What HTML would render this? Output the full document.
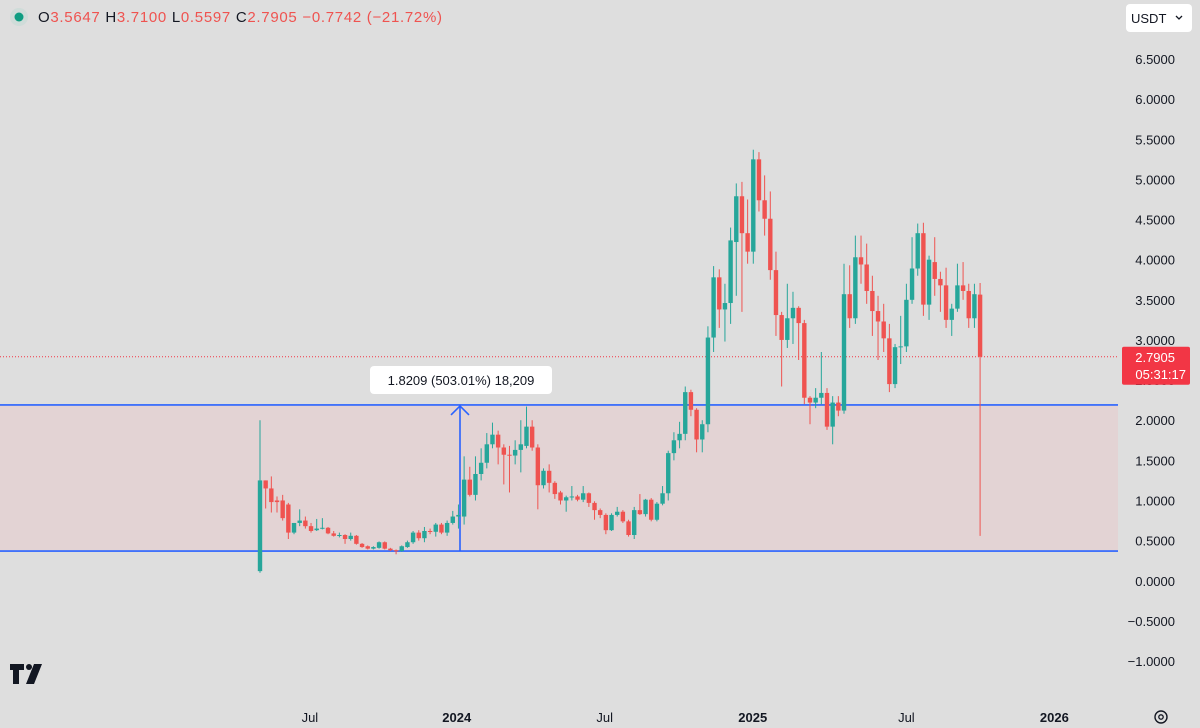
<!DOCTYPE html>
<html><head><meta charset="utf-8"><style>
html,body{margin:0;padding:0;background:#dedede;width:1200px;height:728px;overflow:hidden;font-family:"Liberation Sans",sans-serif;}
svg{position:absolute;left:0;top:0}
</style></head><body>
<svg id="chart" width="1200" height="728">
<rect x="0" y="0" width="1200" height="728" fill="#dedede"/>
<g id="zone"></g>
<g id="grid"></g>
<g id="candles"></g>
<g id="yaxis"></g>
<g id="xaxis"></g>
<g>
<circle cx="19" cy="17" r="9" fill="#cfdcd9"/>
<circle cx="19" cy="17" r="4.5" fill="#0f9d82"/>
<text x="38" y="22" font-size="15" letter-spacing="0.7" fill="#131722">O<tspan fill="#ef5350">3.5647</tspan>  H<tspan fill="#ef5350">3.7100</tspan>  L<tspan fill="#ef5350">0.5597</tspan>  C<tspan fill="#ef5350">2.7905</tspan>  <tspan fill="#ef5350">−0.7742 (−21.72%)</tspan></text>
</g>
<g>
<rect x="1126" y="4" width="66" height="28" rx="4" fill="#fff"/>
<text x="1131" y="23" font-size="13" fill="#131722">USDT</text>
<path d="M1176 16 l3 3 l3 -3" stroke="#131722" stroke-width="1.3" fill="none"/>
</g>
<g>
<path d="M10 664 h14 v6 h-5 v14 h-6 v-14 h-3z" fill="#131722"/>
<circle cx="29" cy="667" r="3" fill="#131722"/>
<path d="M34 664 h8 l-8 20 h-8z" fill="#131722"/>
</g>
<g>
<circle cx="1161" cy="717" r="6" fill="none" stroke="#131722" stroke-width="1.4"/>
<circle cx="1161" cy="717" r="2.2" fill="none" stroke="#131722" stroke-width="1.3"/>
</g>
</svg>
<script>
const opens=[0.12,1.25,1.15,1.0,1.0,0.95,0.60,0.72,0.75,0.68,0.63,0.65,0.66,0.59,0.56,0.57,0.52,0.56,0.46,0.43,0.40,0.41,0.48,0.40,0.38,0.37,0.42,0.48,0.60,0.53,0.62,0.61,0.70,0.60,0.72,0.80,0.80,1.26,1.07,1.33,1.47,1.70,1.82,1.66,1.57,1.56,1.63,1.68,1.92,1.66,1.19,1.37,1.22,1.10,1.00,1.04,1.05,1.01,1.09,0.97,0.88,0.82,0.63,0.82,0.86,0.74,0.57,0.88,0.83,1.01,0.76,0.96,1.09,1.59,1.75,1.83,2.35,2.13,1.76,1.95,3.03,3.78,3.38,3.46,4.22,4.79,4.33,4.10,5.25,4.74,4.51,3.87,3.31,3.0,3.27,3.40,3.21,2.28,2.22,2.28,2.34,1.92,2.22,2.12,3.57,3.27,4.03,3.94,3.61,3.36,3.23,3.02,2.45,2.91,2.92,3.50,3.89,4.33,3.44,3.97,3.76,3.68,3.25,3.39,3.68,3.61,3.27,3.5647];
const highs=[2.0,1.25,1.3,1.05,1.07,0.97,0.72,0.89,0.80,0.72,0.77,0.78,0.67,0.62,0.60,0.58,0.60,0.57,0.47,0.44,0.43,0.49,0.49,0.41,0.39,0.44,0.50,0.62,0.63,0.67,0.65,0.72,0.72,0.75,0.87,0.95,1.55,1.42,1.55,1.65,1.84,1.97,1.87,1.70,1.68,1.75,2.0,2.17,2.0,1.70,1.40,1.45,1.24,1.12,1.06,1.18,1.07,1.18,1.10,0.99,0.90,0.84,0.84,0.92,0.88,0.76,0.92,1.08,1.02,1.03,0.98,1.18,1.62,1.85,1.98,2.42,2.38,2.15,2.0,3.17,3.92,3.88,3.70,4.40,4.95,4.97,4.75,5.37,5.34,5.05,4.85,4.10,3.35,3.7,3.60,3.42,3.25,2.30,2.40,2.85,2.40,2.30,2.30,3.95,3.93,4.30,4.30,4.20,3.80,3.55,3.45,3.20,2.95,3.30,3.70,4.28,4.45,4.46,4.05,4.28,3.85,3.90,3.45,3.95,3.97,3.70,3.70,3.71];
const lows=[0.1,0.9,0.85,0.85,0.75,0.52,0.58,0.68,0.65,0.60,0.62,0.64,0.58,0.55,0.54,0.46,0.50,0.45,0.41,0.39,0.39,0.40,0.39,0.37,0.33,0.36,0.41,0.46,0.50,0.48,0.58,0.55,0.58,0.56,0.70,0.65,0.70,1.05,1.0,1.25,1.40,1.65,1.45,1.20,1.10,1.45,1.35,1.65,1.62,0.89,1.15,1.10,1.02,0.95,0.86,1.0,0.99,0.98,0.92,0.76,0.78,0.58,0.62,0.80,0.72,0.55,0.52,0.82,0.80,0.74,0.74,0.94,1.0,1.50,1.65,1.75,2.05,1.6,1.6,1.85,2.85,3.15,2.98,3.20,3.55,3.35,3.95,3.95,4.60,4.3,3.75,3.05,2.42,2.9,2.95,2.75,2.20,1.95,2.15,2.20,1.88,1.70,2.05,2.08,3.15,3.20,3.70,3.45,3.05,2.75,2.85,2.35,2.40,2.70,2.85,3.45,3.80,3.30,3.25,3.55,3.35,3.15,3.05,3.35,3.50,3.15,3.15,0.5597];
const closes=[1.25,1.15,0.98,0.98,0.78,0.60,0.72,0.75,0.68,0.62,0.65,0.66,0.59,0.56,0.57,0.52,0.56,0.46,0.42,0.40,0.42,0.48,0.40,0.38,0.37,0.43,0.48,0.60,0.53,0.62,0.61,0.70,0.60,0.72,0.80,0.82,1.26,1.07,1.33,1.47,1.70,1.82,1.66,1.57,1.56,1.63,1.70,1.92,1.66,1.19,1.37,1.22,1.08,1.00,1.04,1.05,1.01,1.09,0.97,0.88,0.82,0.63,0.82,0.86,0.74,0.57,0.88,0.83,1.01,0.76,0.96,1.09,1.59,1.75,1.83,2.35,2.13,1.76,1.95,3.03,3.78,3.38,3.46,4.24,4.79,4.33,4.10,5.25,4.74,4.51,3.87,3.31,3.0,3.27,3.40,3.21,2.28,2.22,2.28,2.34,1.92,2.22,2.12,3.57,3.27,4.03,3.94,3.61,3.36,3.23,3.02,2.45,2.91,2.92,3.50,3.89,4.33,3.44,4.00,3.76,3.68,3.25,3.39,3.68,3.61,3.27,3.57,2.7905];
const yTicks=[6.5,6.0,5.5,5.0,4.5,4.0,3.5,3.0,2.5,2.0,1.5,1.0,0.5,0.0,-0.5,-1.0];
const xLabels=["Jul","2024","Jul","2025","Jul","2026"];
const xLabelWeeks=[8.8,34.7,60.8,86.9,114.0,140.1];
const zoneTop=2.19, zoneBottom=0.37, lastPrice=2.7905;

const NS="http://www.w3.org/2000/svg";
const yScale=v=>59+(6.5-v)*80.27;
const xScale=i=>260+i*5.67;
function mk(tag,attrs,parent){const e=document.createElementNS(NS,tag);for(const k in attrs)e.setAttribute(k,attrs[k]);parent.appendChild(e);return e;}

const zone=document.getElementById('zone');
const zr=mk('rect',{x:0,y:yScale(zoneTop),width:1118,height:yScale(zoneBottom)-yScale(zoneTop),fill:'#e3d3d4'},zone);


const l1=mk('line',{x1:0,x2:1118,y1:yScale(zoneTop),y2:yScale(zoneTop),stroke:'#2962ff','stroke-width':1.6},zone);


const l2=mk('line',{x1:0,x2:1118,y1:yScale(zoneBottom),y2:yScale(zoneBottom),stroke:'#2962ff','stroke-width':1.6},zone);


const ax=460;
const ar=mk('path',{d:`M${ax} ${yScale(zoneBottom)} V${yScale(zoneTop)} M${ax-9} ${yScale(zoneTop)+10} L${ax} ${yScale(zoneTop)+1} L${ax+9} ${yScale(zoneTop)+10}`,stroke:'#2962ff','stroke-width':1.6,fill:'none'},zone);


const lb=mk('rect',{x:370,y:366,width:182,height:28,rx:4,fill:'#fff'},zone);


const lt=mk('text',{x:461,y:385,'font-size':13,fill:'#131722','text-anchor':'middle'},zone);
lt.textContent='1.8209 (503.01%) 18,209';



const grid=document.getElementById('grid');
const dl=mk('line',{x1:0,x2:1118,y1:yScale(lastPrice),y2:yScale(lastPrice),stroke:'#f23645','stroke-width':1,'stroke-dasharray':'1 2'},grid);



const cg=document.getElementById('candles');
for(let i=0;i<opens.length;i++){
  const up=closes[i]>=opens[i];
  const col=up?'#26a69a':'#ef5350';
  const x=xScale(i);
  const g=mk('g',{},cg);
  
  
  mk('line',{x1:x,x2:x,y1:yScale(highs[i]),y2:yScale(lows[i]),stroke:col,'stroke-width':1},g);
  const t=yScale(Math.max(opens[i],closes[i])),b=yScale(Math.min(opens[i],closes[i]));
  mk('rect',{x:x-2.2,y:t,width:4.4,height:Math.max(1,b-t),fill:col},g);
}

const yg=document.getElementById('yaxis');
yTicks.forEach(v=>{
  const t=mk('text',{x:1175,y:yScale(v)+5,'font-size':13,fill:'#131722','text-anchor':'end'},yg);
  t.textContent=(v<0?'−':'')+Math.abs(v).toFixed(4);
  
  
});
const pb=mk('rect',{x:1122,y:yScale(lastPrice)-10,width:68,height:38,rx:2,fill:'#f23645'},yg);


const p1=mk('text',{x:1175,y:yScale(lastPrice)+5,'font-size':13,fill:'#fff','text-anchor':'end'},yg);
p1.textContent=lastPrice.toFixed(4);


const p2=mk('text',{x:1186,y:yScale(lastPrice)+22,'font-size':13,fill:'#fff','text-anchor':'end'},yg);
p2.textContent='05:31:17';



const xg=document.getElementById('xaxis');
xLabels.forEach((s,k)=>{
  const t=mk('text',{x:xScale(xLabelWeeks[k]),y:722,'font-size':13,fill:'#131722','text-anchor':'middle','font-weight':/^\d/.test(s)?'bold':'normal'},xg);
  t.textContent=s;
  
  
});
</script>
</body></html>
